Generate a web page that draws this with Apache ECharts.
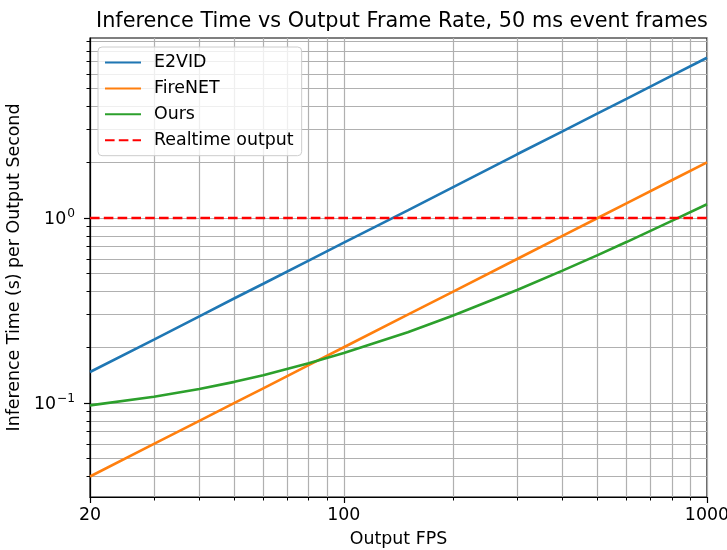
<!DOCTYPE html>
<html><head><meta charset="utf-8">
<script src="https://cdn.jsdelivr.net/npm/echarts@6/dist/echarts.min.js"></script>
<style>html,body{margin:0;padding:0;background:#fff}#c{width:727px;height:550px}</style>
</head><body><div id="c"></div>
<script>
const fps = [20, 30, 40, 50, 60, 80, 100, 150, 200, 300, 400, 500, 600, 800, 1000];
const e2vid = [0.147, 0.22, 0.294, 0.368, 0.441, 0.588, 0.735, 1.10, 1.47, 2.21, 2.94, 3.68, 4.41, 5.88, 7.35];
const firenet = [0.040, 0.060, 0.080, 0.100, 0.120, 0.160, 0.200, 0.300, 0.400, 0.600, 0.800, 1.00, 1.20, 1.60, 2.00];
const ours = [0.097, 0.108, 0.119, 0.130, 0.141, 0.164, 0.186, 0.241, 0.297, 0.408, 0.519, 0.630, 0.741, 0.964, 1.186];
const realtimeX = [20, 1000];
const realtimeY = [1, 1];
const xMajor = [20, 100, 1000];
const xMinor = [30, 40, 50, 60, 70, 80, 90, 200, 300, 400, 500, 600, 700, 800, 900];
const yMajor = [0.1, 1];
const yMinor = [0.04, 0.05, 0.06, 0.07, 0.08, 0.09, 0.2, 0.3, 0.4, 0.5, 0.6, 0.7, 0.8, 0.9, 2, 3, 4, 5, 6, 7, 8, 9];
const xRange = [20, 1000];
const yRange = [0.031, 9.4];

const FONT = 'DejaVu Sans';
const FS = 17.4;
const pair = (xs, ys) => xs.map((x, i) => [x, ys[i]]);
const gridLine = { show: true, lineStyle: { color: '#b0b0b0', width: 1.2 } };

function yFmt(v) {
  const l = Math.log10(v), e = Math.round(l);
  if (Math.abs(l - e) > 1e-6) return '';
  return '{b|10}{s|' + (e < 0 ? '\u2212' + (-e) : e) + '}';
}

const chart = echarts.init(document.getElementById('c'));
chart.setOption({
  animation: false,
  title: {
    text: 'Inference Time vs Output Frame Rate, 50 ms event frames',
    left: 397, top: 6, textAlign: 'center',
    textStyle: { fontFamily: FONT, fontSize: 20.8, fontWeight: 'normal', color: '#000' }
  },
  grid: { left: 90, top: 38, width: 617, height: 459, outerBoundsMode: 'none', containLabel: false, show: true, borderColor: '#000', borderWidth: 1.2, backgroundColor: 'transparent' },
  legend: {
    orient: 'vertical', left: 98, top: 47,
    padding: [7, 8, 7, 6], itemGap: 8.9, itemWidth: 36, itemHeight: 14,
    backgroundColor: 'rgba(255,255,255,0.8)', borderColor: '#cccccc', borderWidth: 1, borderRadius: 4,
    itemStyle: { opacity: 0 },
    textStyle: { fontFamily: FONT, fontSize: FS, color: '#000', padding: [0, 0, 0, 8] },
    data: ['E2VID', 'FireNET', 'Ours', 'Realtime output']
  },
  xAxis: [
    {
      type: 'log', min: xRange[0], max: xRange[1], position: 'bottom',
      name: 'Output FPS', nameLocation: 'middle', nameGap: 34,
      nameTextStyle: { fontFamily: FONT, fontSize: FS, color: '#000' },
      axisLine: { show: true, lineStyle: { color: '#000', width: 1.2 } },
      axisTick: { show: true, length: 6, customValues: xMajor, lineStyle: { color: '#000', width: 1.2 } },
      axisLabel: { show: true, customValues: xMajor, margin: 10, fontFamily: FONT, fontSize: FS, color: '#000', formatter: v => String(Math.round(v)) },
      splitLine: gridLine, minorTick: { show: false }
    },
    {
      type: 'log', min: xRange[0], max: xRange[1], position: 'bottom', offset: 0,
      axisLine: { show: false },
      axisTick: { show: true, length: 3.5, customValues: xMinor, lineStyle: { color: '#000', width: 1 } },
      axisLabel: { show: false },
      splitLine: gridLine
    }
  ],
  yAxis: [
    {
      type: 'log', min: yRange[0], max: yRange[1], position: 'left',
      name: 'Inference Time (s) per Output Second', nameLocation: 'middle', nameGap: 60,
      nameTextStyle: { fontFamily: FONT, fontSize: FS, color: '#000' },
      axisLine: { show: true, lineStyle: { color: '#000', width: 1.2 } },
      axisTick: { show: true, length: 6, customValues: yMajor, lineStyle: { color: '#000', width: 1.2 } },
      axisLabel: {
        show: true, customValues: yMajor, margin: 15, formatter: yFmt,
        rich: {
          b: { fontFamily: FONT, fontSize: FS, color: '#000', lineHeight: 21, verticalAlign: 'bottom' },
          s: { fontFamily: FONT, fontSize: 12.2, color: '#000', lineHeight: 11, verticalAlign: 'top', padding: [0, 0, 0, 1] }
        }
      },
      splitLine: gridLine
    },
    {
      type: 'log', min: yRange[0], max: yRange[1], position: 'left', offset: 0,
      axisLine: { show: false },
      axisTick: { show: true, length: 3.5, customValues: yMinor, lineStyle: { color: '#000', width: 1 } },
      axisLabel: { show: false },
      splitLine: gridLine
    }
  ],
  series: [
    { name: 'E2VID', type: 'line', data: pair(fps, e2vid), symbol: 'none', color: '#1f77b4', lineStyle: { width: 2.6, color: '#1f77b4' } },
    { name: 'FireNET', type: 'line', data: pair(fps, firenet), symbol: 'none', color: '#ff7f0e', lineStyle: { width: 2.6, color: '#ff7f0e' } },
    { name: 'Ours', type: 'line', data: pair(fps, ours), symbol: 'none', color: '#2ca02c', lineStyle: { width: 2.6, color: '#2ca02c' } },
    { name: 'Realtime output', type: 'line', data: pair(realtimeX, realtimeY), symbol: 'none', color: '#ff0000', lineStyle: { width: 2.6, color: '#ff0000', type: [9.6, 4.2] } }
  ]
});
</script>
</body></html>
